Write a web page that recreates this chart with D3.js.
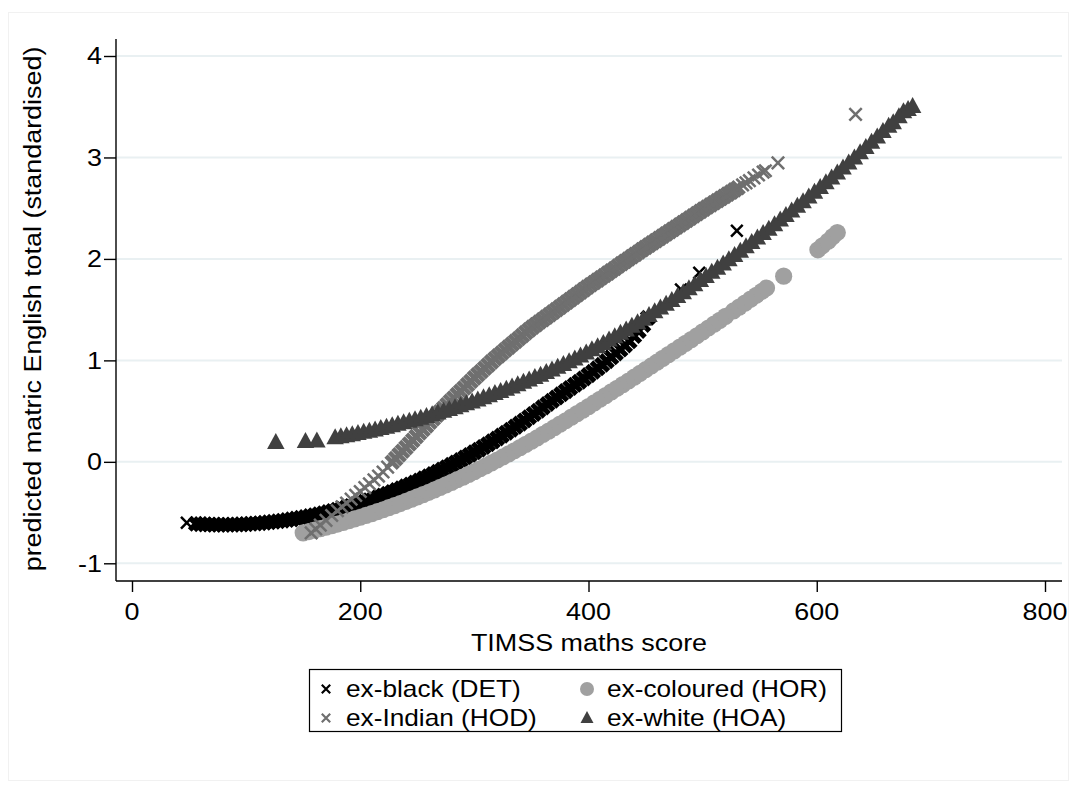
<!DOCTYPE html>
<html>
<head>
<meta charset="utf-8">
<script src="https://cdn.jsdelivr.net/npm/d3@7"></script>
<style>
  html, body { margin: 0; padding: 0; background: #ffffff; }
  svg { display: block; }
  text { font-family: "Liberation Sans", Arial, Helvetica, sans-serif; fill: #000; }
</style>
</head>
<body>
<svg id="chart" width="1077" height="787"></svg>
<script>
// ---------------- data ----------------
const xTicks = [0, 200, 400, 600, 800];
const yTicks = [-1, 0, 1, 2, 3, 4];
const xTitle = "TIMSS maths score";
const yTitle = "predicted matric English total (standardised)";
const seriesNames = ["ex-black (DET)", "ex-coloured (HOR)", "ex-Indian (HOD)", "ex-white (HOA)"];

// ex-black (DET): dense part of the band, and isolated points
const blackX = [56,60,64,68,72,76,80,84,88,92,96,100,104,108,112,116,120,124,128,132,136,140,144,148,152,156,160,164,168,172,176,180,184,188,192,196,200,204,208,212,216,220,224,228,232,236,240,244,248,252,256,260,264,268,272,276,280,284,288,292,296,300,304,308,312,316,320,324,328,332,336,340,344,348,352,356,360,364,368,372,376,380,384,388,392,396,400,404,408,412,416,420,424,428,432,436,440,444,448,452];
const blackY = [-0.611,-0.614,-0.616,-0.618,-0.619,-0.620,-0.620,-0.620,-0.619,-0.618,-0.616,-0.614,-0.611,-0.608,-0.605,-0.601,-0.596,-0.591,-0.586,-0.580,-0.574,-0.567,-0.560,-0.552,-0.544,-0.535,-0.526,-0.516,-0.506,-0.495,-0.484,-0.472,-0.460,-0.448,-0.435,-0.421,-0.408,-0.393,-0.378,-0.363,-0.347,-0.331,-0.314,-0.297,-0.279,-0.261,-0.242,-0.223,-0.204,-0.184,-0.163,-0.142,-0.120,-0.099,-0.076,-0.053,-0.030,-0.006,0.018,0.043,0.068,0.094,0.120,0.147,0.174,0.202,0.230,0.258,0.287,0.317,0.347,0.377,0.408,0.440,0.472,0.504,0.537,0.570,0.602,0.634,0.666,0.697,0.728,0.759,0.790,0.822,0.855,0.888,0.922,0.957,0.993,1.030,1.068,1.107,1.147,1.188,1.240,1.290,1.350,1.420];
const blackSparseX = [48, 481, 497, 530];
const blackSparseY = [-0.600, 1.700, 1.864, 2.278];

// ex-coloured (HOR)
const colouredX = [150,155,160,165,170,175,180,185,190,195,200,205,210,215,220,225,230,235,240,245,250,255,260,265,270,275,280,285,290,295,300,305,310,315,320,325,330,335,340,345,350,355,360,365,370,375,380,385,390,395,400,405,410,415,420,425,430,435,440,445,450,455,460,465,470,475,480,485,490,495,500,505,510,515,520,527,532,537,542,547,552,556,571,601,605,610,614,618];
const colouredY = [-0.700,-0.687,-0.673,-0.659,-0.644,-0.629,-0.613,-0.597,-0.580,-0.563,-0.546,-0.528,-0.510,-0.491,-0.472,-0.452,-0.432,-0.411,-0.390,-0.368,-0.346,-0.323,-0.300,-0.276,-0.252,-0.227,-0.202,-0.176,-0.150,-0.123,-0.096,-0.068,-0.040,-0.011,0.018,0.048,0.078,0.109,0.140,0.172,0.204,0.237,0.270,0.303,0.337,0.371,0.405,0.440,0.475,0.510,0.545,0.581,0.617,0.653,0.689,0.725,0.761,0.797,0.834,0.871,0.908,0.945,0.982,1.019,1.056,1.093,1.130,1.167,1.205,1.243,1.281,1.319,1.357,1.395,1.433,1.487,1.525,1.564,1.603,1.642,1.681,1.713,1.830,2.090,2.130,2.175,2.220,2.260];

// ex-Indian (HOD): dense part of the band, and isolated points
const indianX = [228,231,234,237,240,243,246,249,252,255,258,261,264,267,270,273,276,279,282,285,288,291,294,297,300,303,306,309,312,315,318,321,324,327,330,333,336,339,342,345,348,351,354,357,360,363,366,369,372,375,378,381,384,387,390,393,396,399,402,405,408,411,414,417,420,423,426,429,432,435,438,441,444,447,450,453,456,459,462,465,468,471,474,477,480,483,486,489,492,495,498,501,504,507,510,513,516,519,522,525,528,531];
const indianY = [-0.004,0.032,0.068,0.104,0.140,0.176,0.212,0.248,0.284,0.320,0.355,0.390,0.425,0.459,0.494,0.528,0.563,0.596,0.629,0.662,0.695,0.728,0.761,0.794,0.827,0.859,0.890,0.922,0.953,0.985,1.016,1.045,1.073,1.102,1.130,1.159,1.187,1.216,1.244,1.273,1.301,1.328,1.353,1.378,1.402,1.427,1.451,1.476,1.500,1.525,1.550,1.574,1.599,1.623,1.648,1.672,1.697,1.722,1.745,1.768,1.791,1.814,1.837,1.860,1.883,1.906,1.930,1.953,1.976,1.999,2.022,2.045,2.068,2.091,2.114,2.136,2.158,2.180,2.203,2.225,2.247,2.269,2.291,2.314,2.336,2.358,2.380,2.402,2.424,2.447,2.469,2.491,2.512,2.533,2.554,2.575,2.596,2.617,2.638,2.659,2.680,2.701];
const indianSparseX = [157,161,165,170,175,180,184,188,192,196,200,204,208,212,216,220,224,535,538,541,545,549,553,555,566,634];
const indianSparseY = [-0.700,-0.662,-0.624,-0.577,-0.529,-0.482,-0.444,-0.406,-0.368,-0.330,-0.292,-0.254,-0.216,-0.178,-0.140,-0.100,-0.052,2.729,2.750,2.771,2.799,2.827,2.855,2.869,2.947,3.425];

// ex-white (HOA)
const whiteX = [126,152,162,178,183,188,193,198,203,208,213,218,223,228,233,238,243,248,253,258,263,268,273,278,283,288,293,298,303,308,313,318,323,328,333,338,343,348,353,358,363,368,373,378,383,388,393,398,403,408,413,418,423,428,433,438,443,448,453,458,463,468,473,478,483,488,493,498,503,508,513,518,523,528,533,538,543,548,553,558,563,568,573,578,583,588,593,598,603,608,613,618,623,628,633,638,643,648,653,658,663,667,672,676,680,684];
const whiteY = [0.180,0.190,0.195,0.226,0.236,0.246,0.256,0.267,0.279,0.291,0.303,0.316,0.330,0.344,0.358,0.373,0.388,0.403,0.419,0.435,0.452,0.469,0.486,0.504,0.522,0.541,0.560,0.579,0.599,0.619,0.640,0.661,0.682,0.704,0.726,0.749,0.772,0.795,0.819,0.843,0.868,0.894,0.920,0.947,0.975,1.003,1.032,1.062,1.093,1.124,1.156,1.189,1.222,1.255,1.289,1.324,1.359,1.394,1.430,1.467,1.504,1.541,1.579,1.617,1.656,1.695,1.735,1.775,1.815,1.856,1.897,1.939,1.981,2.023,2.065,2.108,2.151,2.194,2.238,2.282,2.326,2.371,2.416,2.461,2.507,2.553,2.599,2.645,2.692,2.739,2.787,2.835,2.884,2.934,2.984,3.035,3.087,3.139,3.191,3.244,3.297,3.330,3.390,3.440,3.460,3.490];

// ---------------- drawing ----------------
const svg = d3.select("#chart");
const SX = 1.17; // horizontal glyph stretch of the original rendering

const x = d3.scaleLinear().domain([0, 800]).range([132, 1045]);
const y = d3.scaleLinear().domain([-1, 4]).range([563.3, 56]);

const plotLeft = 116, plotRight = 1062, plotTop = 39, plotBottom = 581;

function label(parent, px, py, str, anchor, rot, size, sx) {
  const g = parent.append("g").attr("transform", `translate(${px},${py}) rotate(${rot || 0})`);
  g.append("text").attr("transform", `scale(${sx || SX},1)`).attr("text-anchor", anchor)
    .attr("dy", "0.36em").attr("font-size", size || 23).text(str);
  return g;
}

// faint outer graph-region frame
svg.append("rect").attr("x", 8.5).attr("y", 12.5).attr("width", 1060).attr("height", 768)
  .attr("fill", "none").attr("stroke", "#f1f1f1").attr("stroke-width", 1);

// gridlines
svg.append("g").selectAll("line").data(yTicks).join("line")
  .attr("x1", plotLeft).attr("x2", plotRight)
  .attr("y1", d => y(d)).attr("y2", d => y(d))
  .attr("stroke", "#e9f0f2").attr("stroke-width", 2);

// y axis
const yAxis = d3.axisLeft(y).tickValues(yTicks).tickSize(12).tickFormat("");
const gy = svg.append("g").attr("transform", `translate(${plotLeft},0)`).call(yAxis);
gy.select(".domain").attr("d", `M0,${plotTop}V${plotBottom}`).attr("stroke", "#000").attr("stroke-width", 1.4);
gy.selectAll(".tick line").attr("stroke", "#000").attr("stroke-width", 1.4);
yTicks.forEach(t => label(svg, 102, y(t), String(t), "end"));

// x axis
const xAxis = d3.axisBottom(x).tickValues(xTicks).tickSize(11).tickFormat("");
const gx = svg.append("g").attr("transform", `translate(0,${plotBottom})`).call(xAxis);
gx.select(".domain").attr("d", `M${plotLeft},0H${plotRight}`).attr("stroke", "#000").attr("stroke-width", 1.4);
gx.selectAll(".tick line").attr("stroke", "#000").attr("stroke-width", 1.4);
xTicks.forEach(t => label(svg, x(t), 612, String(t), "middle"));

// axis titles
label(svg, 589, 643, xTitle, "middle");
label(svg, 33, 309, yTitle, "middle", -90);

// marker shapes
function xPath(s) { return `M${-s},${-s}L${s},${s}M${-s},${s}L${s},${-s}`; }
function triPath(w, h) { return `M0,${-h * 2 / 3}L${w / 2},${h / 3}L${-w / 2},${h / 3}Z`; }
const zip = (xs, ys) => xs.map((v, i) => [v, ys[i]]);

function crosses(xs, ys, half, color, sw) {
  svg.append("g").selectAll("path").data(zip(xs, ys)).join("path")
    .attr("transform", d => `translate(${x(d[0])},${y(d[1])})`)
    .attr("d", xPath(half)).attr("fill", "none").attr("stroke", color).attr("stroke-width", sw);
}

// ex-black
crosses(blackX, blackY, 6.2, "#000", 5.2);
crosses(blackSparseX, blackSparseY, 5.8, "#000", 2.5);

// ex-coloured
svg.append("g").selectAll("circle").data(zip(colouredX, colouredY)).join("circle")
  .attr("cx", d => x(d[0])).attr("cy", d => y(d[1])).attr("r", 8.6).attr("fill", "#a0a0a0");

// ex-Indian
crosses(indianX, indianY, 6.2, "#6f6f6f", 4.6);
crosses(indianSparseX, indianSparseY, 6.2, "#6f6f6f", 2.5);

// ex-white
svg.append("g").selectAll("path").data(zip(whiteX, whiteY)).join("path")
  .attr("transform", d => `translate(${x(d[0])},${y(d[1])})`)
  .attr("d", triPath(17.5, 16)).attr("fill", "#404040");

// legend
const lg = svg.append("g");
lg.append("rect").attr("x", 309.5).attr("y", 669.5).attr("width", 532).attr("height", 62)
  .attr("fill", "#fff").attr("stroke", "#000").attr("stroke-width", 1.2);
const leg = [
  { name: seriesNames[0], kx: 326, ky: 689, type: "x", color: "#000" },
  { name: seriesNames[1], kx: 587, ky: 689, type: "c", color: "#a0a0a0" },
  { name: seriesNames[2], kx: 326, ky: 718, type: "x", color: "#6f6f6f" },
  { name: seriesNames[3], kx: 587, ky: 718, type: "t", color: "#404040" }
];
leg.forEach(e => {
  if (e.type === "x") {
    lg.append("path").attr("transform", `translate(${e.kx},${e.ky})`).attr("d", xPath(4.2))
      .attr("stroke", e.color).attr("stroke-width", 2.2).attr("fill", "none");
  } else if (e.type === "c") {
    lg.append("circle").attr("cx", e.kx).attr("cy", e.ky).attr("r", 7).attr("fill", e.color);
  } else {
    lg.append("path").attr("transform", `translate(${e.kx},${e.ky + 1})`).attr("d", triPath(13, 12)).attr("fill", e.color);
  }
  label(lg, e.kx + 20, e.ky, e.name, "start", 0, 23, 1.14);
});
</script>
</body>
</html>
